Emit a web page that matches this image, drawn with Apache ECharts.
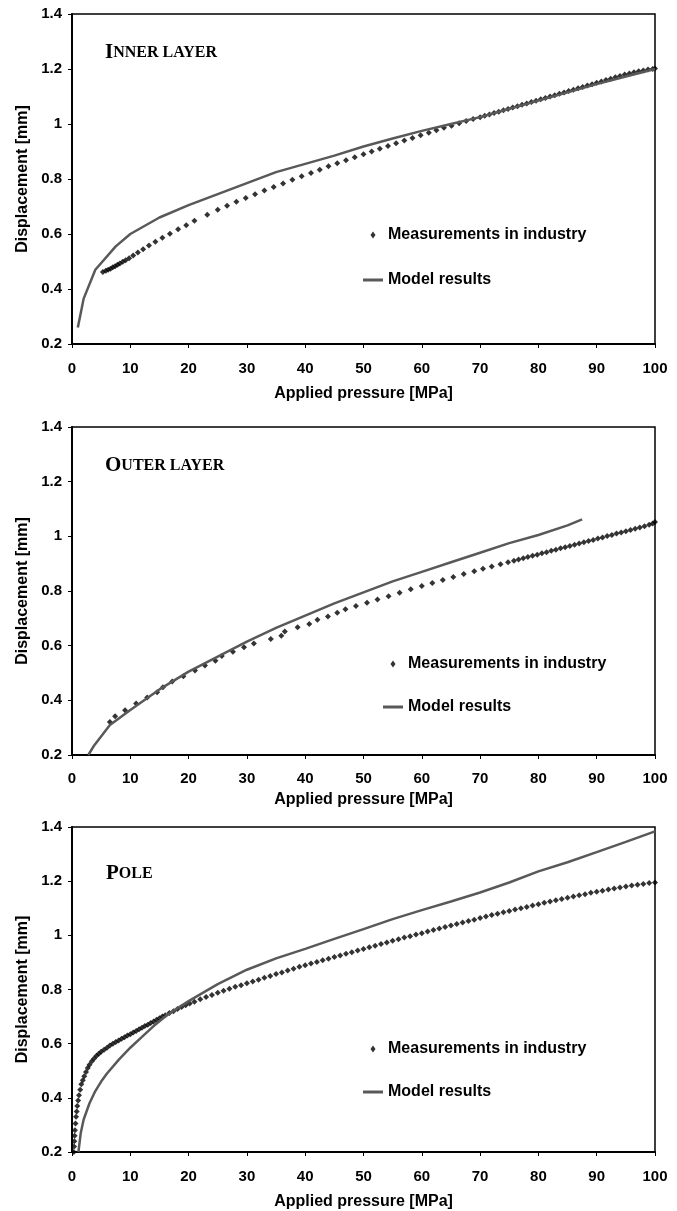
<!DOCTYPE html>
<html>
<head>
<meta charset="utf-8">
<script src="https://cdn.jsdelivr.net/npm/echarts@6/dist/echarts.min.js"></script>
<style>
  html, body { margin: 0; padding: 0; background: #fff; }
  #chart { width: 677px; height: 1211px; }
</style>
</head>
<body>
<div id="chart"></div>
<script>
// panel labels (small caps: first letter, rest)
const panelLabels = [["I", "NNER LAYER"], ["O", "UTER LAYER"], ["P", "OLE"]];
const xTicks = [0, 10, 20, 30, 40, 50, 60, 70, 80, 90, 100];
const yTicks = [0.2, 0.4, 0.6, 0.8, 1, 1.2, 1.4];

// inner layer
const innerModel = [[1,0.26],[2,0.365],[4,0.47],[7.5,0.555],[10,0.6],[15,0.66],[20,0.705],[25,0.745],[30,0.785],[35,0.825],[40,0.855],[45,0.885],[50,0.918],[55,0.947],[60,0.975],[65,1.0],[70,1.025],[80,1.085],[90,1.145],[100,1.2]];
const innerMeas = [[5.3,0.462],[5.8,0.466],[6.2,0.47],[6.6,0.474],[7,0.479],[7.4,0.483],[7.8,0.488],[8.2,0.493],[8.7,0.499],[9.2,0.505],[9.8,0.512],[10.5,0.522],[11.3,0.533],[12.2,0.545],[13.2,0.558],[14.3,0.572],[15.5,0.586],[16.8,0.601],[18.2,0.617],[19.6,0.632],[21,0.648],[23.2,0.67],[25,0.688],[26.6,0.703],[28.2,0.717],[29.8,0.731],[31.4,0.745],[33,0.758],[34.6,0.771],[36.2,0.784],[37.8,0.797],[39.4,0.81],[41,0.822],[42.5,0.834],[44,0.846],[45.5,0.857],[47,0.868],[48.5,0.879],[50,0.89],[51.4,0.9],[52.8,0.91],[54.2,0.92],[55.6,0.93],[57,0.94],[58.4,0.949],[59.8,0.959],[61.2,0.968],[62.5,0.977],[63.8,0.986],[65.1,0.994],[66.4,1.003],[67.6,1.011],[68.8,1.018],[70,1.025],[70.8,1.03],[71.6,1.035],[72.4,1.04],[73.2,1.045],[74,1.05],[74.8,1.055],[75.6,1.06],[76.4,1.065],[77.2,1.07],[78,1.075],[78.8,1.08],[79.6,1.085],[80.4,1.09],[81.2,1.095],[82,1.1],[82.8,1.105],[83.6,1.11],[84.4,1.115],[85.2,1.12],[86,1.125],[86.8,1.13],[87.6,1.135],[88.4,1.14],[89.2,1.145],[90,1.15],[90.8,1.155],[91.6,1.16],[92.4,1.165],[93.2,1.17],[94,1.175],[94.8,1.18],[95.6,1.184],[96.4,1.188],[97.2,1.192],[98,1.195],[98.8,1.198],[99.6,1.2],[100,1.202]];

// outer layer
const outerModel = [[2.8,0.2],[3.8,0.235],[6.5,0.31],[10,0.365],[15,0.44],[20,0.505],[25,0.56],[30,0.615],[35,0.665],[40,0.71],[45,0.755],[50,0.795],[55,0.835],[60,0.87],[65,0.905],[70,0.94],[75,0.975],[80,1.005],[85,1.04],[87.5,1.062]];
const outerMeas = [[6.5,0.321],[7.4,0.342],[9.1,0.364],[11,0.388],[12.9,0.41],[14.6,0.43],[15.6,0.448],[17.2,0.469],[19.1,0.488],[21.1,0.509],[22.8,0.527],[24.6,0.545],[25.7,0.562],[27.6,0.578],[29.5,0.594],[31.2,0.608],[34.1,0.624],[35.9,0.636],[36.5,0.652],[38.7,0.667],[40.7,0.679],[42.1,0.695],[43.9,0.707],[45.5,0.72],[46.9,0.733],[48.7,0.745],[50.6,0.757],[52.4,0.769],[54.3,0.781],[56.2,0.794],[58.1,0.806],[60,0.818],[61.8,0.829],[63.6,0.84],[65.4,0.851],[67.2,0.862],[69,0.872],[70.5,0.881],[72,0.89],[73.5,0.898],[74.8,0.905],[75.8,0.911],[76.6,0.915],[77.4,0.92],[78.2,0.924],[79,0.929],[79.8,0.933],[80.6,0.938],[81.4,0.942],[82.2,0.947],[83,0.951],[83.8,0.956],[84.6,0.96],[85.4,0.965],[86.2,0.969],[87,0.974],[87.8,0.978],[88.6,0.983],[89.4,0.987],[90.2,0.992],[91,0.996],[91.8,1.001],[92.6,1.005],[93.4,1.01],[94.2,1.014],[95,1.019],[95.8,1.023],[96.6,1.028],[97.4,1.032],[98.2,1.037],[99,1.042],[99.6,1.047],[100,1.052]];

// pole
const poleModel = [[1.1,0.2],[1.5,0.27],[2,0.32],[3,0.38],[4,0.425],[5,0.46],[6,0.49],[8,0.54],[10,0.585],[12,0.625],[14,0.665],[16,0.7],[18,0.73],[20,0.757],[25,0.82],[30,0.873],[35,0.915],[40,0.95],[45,0.987],[50,1.023],[55,1.06],[60,1.093],[65,1.125],[70,1.158],[75,1.195],[80,1.236],[85,1.27],[90,1.307],[95,1.345],[100,1.384]];
const poleMeas = [[0.3,0.2],[0.35,0.22],[0.4,0.24],[0.45,0.26],[0.5,0.28],[0.6,0.305],[0.7,0.33],[0.8,0.35],[0.9,0.37],[1.05,0.39],[1.2,0.41],[1.4,0.43],[1.6,0.45],[1.85,0.465],[2.1,0.48],[2.4,0.495],[2.7,0.51],[3,0.522],[3.4,0.535],[3.8,0.545],[4.2,0.555],[4.6,0.563],[5,0.57],[5.5,0.578],[6,0.585],[6.5,0.593],[7,0.6],[7.5,0.606],[8,0.612],[8.5,0.618],[9,0.624],[9.5,0.63],[10,0.635],[10.5,0.641],[11,0.647],[11.5,0.653],[12,0.659],[12.5,0.665],[13,0.67],[13.5,0.676],[14,0.682],[14.5,0.688],[15,0.694],[15.5,0.7],[16,0.705],[16.7,0.713],[17.4,0.72],[18.1,0.728],[18.8,0.735],[19.5,0.742],[20.2,0.748],[21,0.755],[22,0.764],[23,0.772],[24,0.78],[25,0.788],[26,0.795],[27,0.803],[28,0.81],[29,0.816],[30,0.823],[31,0.83],[32,0.836],[33,0.843],[34,0.85],[35,0.857],[36,0.863],[37,0.87],[38,0.877],[39,0.884],[40,0.89],[41,0.896],[42,0.902],[43,0.908],[44,0.914],[45,0.92],[46,0.926],[47,0.932],[48,0.938],[49,0.944],[50,0.95],[51,0.956],[52,0.962],[53,0.968],[54,0.974],[55,0.98],[56,0.986],[57,0.992],[58,0.997],[59,1.003],[60,1.008],[61,1.014],[62,1.02],[63,1.025],[64,1.031],[65,1.036],[66,1.042],[67,1.047],[68,1.053],[69,1.058],[70,1.064],[71,1.07],[72,1.075],[73,1.08],[74,1.085],[75,1.09],[76,1.095],[77,1.1],[78,1.105],[79,1.11],[80,1.115],[81,1.12],[82,1.125],[83,1.13],[84,1.134],[85,1.139],[86,1.143],[87,1.148],[88,1.152],[89,1.157],[90,1.161],[91,1.165],[92,1.169],[93,1.173],[94,1.177],[95,1.18],[96,1.184],[97,1.187],[98,1.19],[99,1.193],[100,1.195]];

const panels = [
  { label: panelLabels[0], model: innerModel, meas: innerMeas, top: 14, height: 330, nameGap: 42, labelMargin: 17, legendLeft: 363, legendTop: 227, legendGap: 29, labelLeft: 105, labelTop: 42 },
  { label: panelLabels[1], model: outerModel, meas: outerMeas, top: 427, height: 328, nameGap: 37, labelMargin: 16, legendLeft: 383, legendTop: 656, legendGap: 27, labelLeft: 105, labelTop: 455 },
  { label: panelLabels[2], model: poleModel, meas: poleMeas, top: 827, height: 328, nameGap: 42, labelMargin: 17, legendLeft: 363, legendTop: 1041, legendGap: 27, labelLeft: 106, labelTop: 863 }
];

const FONT = "Arial, 'Liberation Sans', sans-serif";
const SERIF = "'Times New Roman', 'Liberation Serif', serif";
const MEAS = "Measurements in industry";
const MODEL = "Model results";

const option = {
  animation: false,
  backgroundColor: "#fff",
  textStyle: { fontFamily: FONT },
  title: [], grid: [], xAxis: [], yAxis: [], legend: [], series: []
};

panels.forEach((p, i) => {
  option.grid.push({
    left: 72, right: 22, top: p.top, height: p.height,
    show: true, borderColor: "#000", borderWidth: 1.5
  });
  option.title.push({
    left: p.labelLeft, top: p.labelTop, padding: 0,
    text: "{a|" + p.label[0] + "}{b|" + p.label[1] + "}",
    textStyle: {
      rich: {
        a: { fontFamily: SERIF, fontSize: 21, color: "#000" },
        b: { fontFamily: SERIF, fontSize: 16, color: "#000" }
      }
    }
  });
  option.xAxis.push({
    gridIndex: i, type: "value", min: xTicks[0], max: xTicks[xTicks.length - 1], interval: 10,
    name: "Applied pressure [MPa]", nameLocation: "middle", nameGap: p.nameGap,
    nameTextStyle: { fontSize: 16, fontWeight: "bold", color: "#000", fontFamily: FONT },
    axisLine: { onZero: false, lineStyle: { color: "#000", width: 2 } },
    axisTick: { show: true, inside: false, length: 4, lineStyle: { color: "#000", width: 1 } },
    axisLabel: { fontSize: 15, fontWeight: "bold", color: "#000", margin: p.labelMargin, fontFamily: FONT },
    splitLine: { show: false }
  });
  option.yAxis.push({
    gridIndex: i, type: "value", min: yTicks[0], max: yTicks[yTicks.length - 1], interval: 0.2,
    name: "Displacement [mm]", nameLocation: "middle", nameGap: 36,
    nameTextStyle: { fontSize: 16, fontWeight: "bold", color: "#000", fontFamily: FONT },
    axisLine: { onZero: false, lineStyle: { color: "#000", width: 2 } },
    axisTick: { show: true, inside: false, length: 4, lineStyle: { color: "#000", width: 1 } },
    axisLabel: { fontSize: 15, fontWeight: "bold", color: "#000", margin: 10, fontFamily: FONT },
    splitLine: { show: false }
  });
  option.legend.push({
    orient: "vertical", left: p.legendLeft, top: p.legendTop,
    itemWidth: 20, itemHeight: 7, itemGap: p.legendGap, padding: 0,
    selectedMode: false, symbolKeepAspect: true,
    textStyle: { fontSize: 16, fontWeight: "bold", color: "#000", fontFamily: FONT },
    data: [
      { name: MEAS, icon: "path://M2.5,0L5,3.5L2.5,7L0,3.5Z" },
      { name: MODEL, icon: "path://M0,0L20,0L20,3L0,3Z" }
    ]
  });
  option.series.push({
    name: MODEL, type: "line", xAxisIndex: i, yAxisIndex: i,
    data: p.model, symbol: "none", smooth: false,
    lineStyle: { color: "#595959", width: 2.5 }, itemStyle: { color: "#595959" }
  });
  option.series.push({
    name: MEAS, type: "scatter", xAxisIndex: i, yAxisIndex: i,
    data: p.meas, symbol: "diamond", symbolSize: 6,
    itemStyle: { color: "#000" }
  });
});

const chart = echarts.init(document.getElementById("chart"));
chart.setOption(option);
</script>
</body>
</html>
